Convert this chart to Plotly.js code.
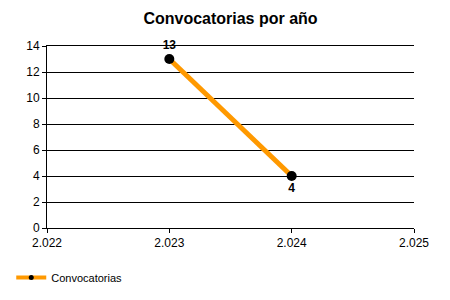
<!DOCTYPE html>
<html>
<head>
<meta charset="utf-8">
<script src="https://cdn.plot.ly/plotly-3.0.1.min.js"></script>
<style>html,body{margin:0;padding:0;background:#fff;}#chart{width:450px;height:300px;}</style>
</head>
<body>
<div id="chart"></div>
<script>
const years = [2023, 2024];
const counts = [13, 4];
const labels = ['13', '4'];
const labelPositions = ['top center', 'bottom center'];
const seriesName = 'Convocatorias';
const chartTitle = 'Convocatorias por año';

const trace = {
  x: years,
  y: counts,
  type: 'scatter',
  mode: 'lines+markers+text',
  name: seriesName,
  showlegend: false,
  text: labels,
  textposition: labelPositions,
  textfont: {family: 'Liberation Sans, Arial, sans-serif', size: 12, color: '#000', weight: 'bold'},
  line: {color: '#FF9900', width: 5},
  marker: {color: '#000', size: 10},
  cliponaxis: false
};

const legendTrace = {
  x: [null],
  y: [null],
  type: 'scatter',
  mode: 'lines+markers',
  name: seriesName,
  showlegend: true,
  line: {color: '#FF9900', width: 4},
  marker: {color: '#000', size: 5}
};

const layout = {
  width: 450, height: 300,
  separators: ',.',
  paper_bgcolor: '#fff', plot_bgcolor: '#fff',
  margin: {l: 47, r: 36, t: 46, b: 72},
  font: {family: 'Liberation Sans, Arial, sans-serif', size: 12, color: '#000'},
  title: {text: '<b>' + chartTitle + '</b>', font: {size: 16, color: '#000'}, x: 0.5, xanchor: 'center', y: 0.94, yanchor: 'middle', xref: 'paper'},
  xaxis: {
    range: [2022, 2025], dtick: 1, tick0: 2022, tickformat: ',d',
    showgrid: false, zeroline: false, showline: true, mirror: true, linecolor: '#000', linewidth: 1,
    ticks: 'outside', ticklen: 4, tickcolor: '#000', tickfont: {size: 12}, fixedrange: true
  },
  yaxis: {
    range: [0, 14], dtick: 2, tick0: 0,
    showgrid: true, gridcolor: '#000', gridwidth: 1, zeroline: false,
    showline: true, linecolor: '#000', linewidth: 1,
    ticks: 'outside', ticklen: 4, tickcolor: '#000', tickfont: {size: 12}, fixedrange: true
  },
  showlegend: true,
  legend: {orientation: 'h', xref: 'container', yref: 'container', x: 0.025, y: 0.075, xanchor: 'left', yanchor: 'middle', itemwidth: 30, font: {size: 11, color: '#000'}, bgcolor: 'rgba(0,0,0,0)'}
};

Plotly.newPlot('chart', [trace, legendTrace], layout, {displayModeBar: false, staticPlot: true});
</script>
</body>
</html>
